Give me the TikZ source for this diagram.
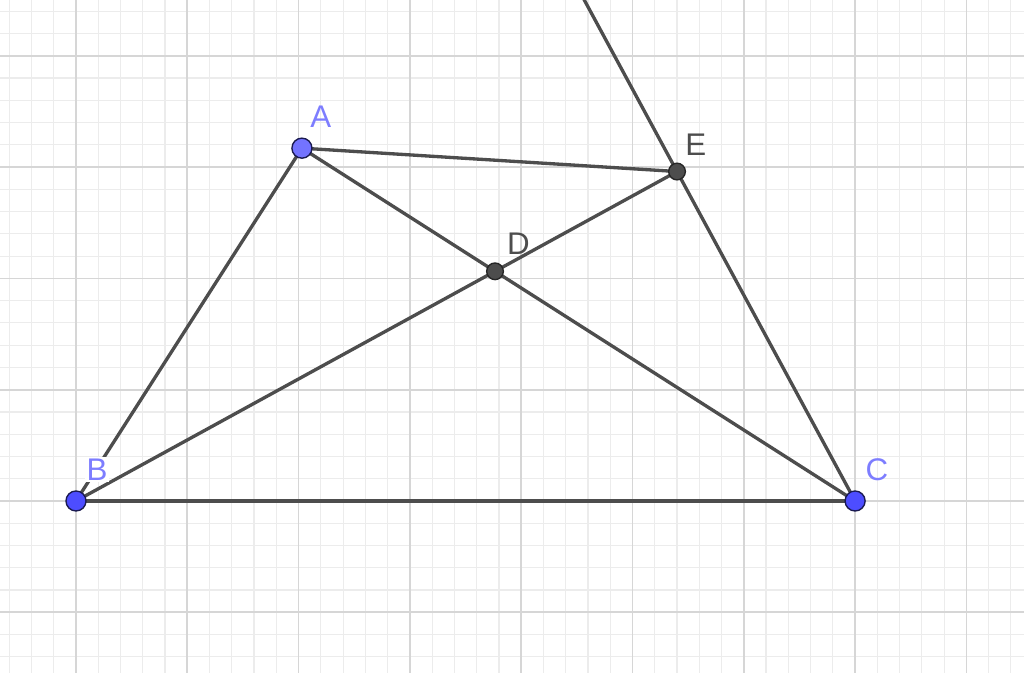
\documentclass[tikz,border=0pt]{standalone}
\usepackage{fontspec}
\setmainfont{Liberation Sans}
\usetikzlibrary{calc}
\definecolor{seg}{RGB}{77,77,77}
\definecolor{ptblue}{RGB}{77,77,255}
\definecolor{ptblueA}{RGB}{115,115,255}
\definecolor{lblblue}{RGB}{125,125,255}
\definecolor{ptedge}{RGB}{26,26,80}
\definecolor{minorgrid}{RGB}{236,236,236}
\definecolor{majorgrid}{RGB}{214,214,214}
\tikzset{
  minorline/.style={draw=minorgrid, line width=0.3pt},
  majorline/.style={draw=majorgrid, line width=0.45pt},
  segline/.style={draw=seg, line width=0.85pt},
  freept/.style={circle, fill=ptblue, draw=ptedge, line width=0.35pt, minimum size=0.18cm, inner sep=0pt},
  deppt/.style={circle, fill=seg, draw=black!85, line width=0.35pt, minimum size=0.15cm, inner sep=0pt},
  bluelbl/.style={text=lblblue, font=\fontsize{8}{9}\selectfont, inner sep=0.4pt},
  graylbl/.style={text=seg, font=\fontsize{8}{9}\selectfont, inner sep=0.4pt}
}
\begin{document}
\begin{tikzpicture}
\useasboundingbox (-0.6828,-1.5454) rectangle (8.5175,4.5013);
\clip (-0.6828,-1.5454) rectangle (8.5175,4.5013);
\fill[white] (-0.6828,-1.5454) rectangle (8.5175,4.5013);
\draw[minorline] (-0.6828,-1.5454) grid[step=0.2] (8.5175,4.5013);
\draw[majorline] (-0.6828,-1.5454) grid[step=1] (8.5175,4.5013);
\coordinate (A) at (2.03,3.17);
\coordinate (B) at (0,0);
\coordinate (C) at (7,0);
\coordinate (E) at (5.40,2.96);
\coordinate (D) at (intersection of A--C and B--E);
\coordinate (F) at ($(C)!1.56!(E)$);
\draw[segline] (A) -- (B);
\draw[segline] (B) -- (C);
\draw[segline] (A) -- (C);
\draw[segline] (A) -- (E);
\draw[segline] (B) -- (E);
\draw[segline] (C) -- (F);
\node[bluelbl] (lA) at ($(A)+(0.17,0.28)$) {A};
\node[bluelbl, fill=white] (lB) at ($(B)+(0.19,0.28)$) {B};
\node[bluelbl] (lC) at ($(C)+(0.195,0.28)$) {C};
\node[graylbl] (lD) at ($(D)+(0.21,0.25)$) {D};
\node[graylbl] (lE) at ($(E)+(0.17,0.24)$) {E};
\node[freept, fill=ptblueA] (pA) at (A) {};
\node[freept] (pB) at (B) {};
\node[freept] (pC) at (C) {};
\node[deppt] (pD) at (D) {};
\node[deppt] (pE) at (E) {};
\end{tikzpicture}
\end{document}
